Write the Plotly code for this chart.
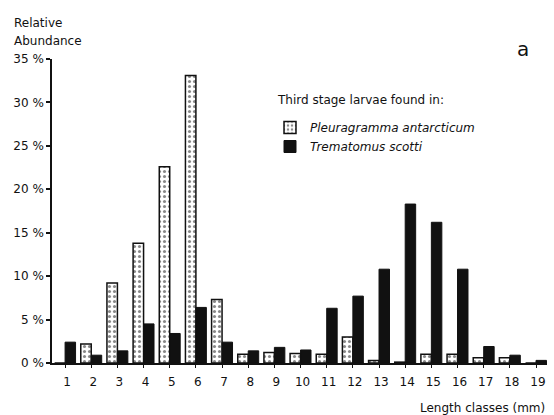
import plotly.graph_objects as go

# Length classes (mm) and relative abundance (%) of third stage larvae
length_classes = list(range(1, 20))
pleuragramma = [0.0, 2.2, 9.2, 13.8, 22.6, 33.1, 7.3, 1.0, 1.2, 1.1, 1.0, 3.0,
                0.3, 0.1, 1.0, 1.0, 0.6, 0.6, 0.0]
trematomus = [2.4, 0.9, 1.4, 4.5, 3.4, 6.4, 2.4, 1.4, 1.8, 1.5, 6.3, 7.7,
              10.8, 18.3, 16.2, 10.8, 1.9, 0.9, 0.3]
y_ticks = [0, 5, 10, 15, 20, 25, 30, 35]
y_tick_labels = [f"{v} %" for v in y_ticks]

FONT = "DejaVu Sans"
INK = "#111111"
W, H = 554, 415
ML, MR, MT, MB = 52, 7, 59, 52
PW, PH = W - ML - MR, H - MT - MB


def px_x(x):
    return (x - ML) / PW


def px_y(y):
    return (H - MB - y) / PH


fig = go.Figure()
fig.add_trace(go.Bar(
    x=length_classes, y=pleuragramma, name="Pleuragramma antarcticum",
    marker=dict(color="white", line=dict(color=INK, width=1.5),
                pattern=dict(shape=".", fgcolor=INK, bgcolor="white",
                             size=5, solidity=0.3, fillmode="overlay")),
))
fig.add_trace(go.Bar(
    x=length_classes, y=trematomus, name="Trematomus scotti",
    marker=dict(color=INK, line=dict(color=INK, width=1)),
))

fig.update_layout(
    width=W, height=H,
    margin=dict(l=ML, r=MR, t=MT, b=MB, autoexpand=False),
    paper_bgcolor="white", plot_bgcolor="white",
    barmode="group", bargap=0.2, bargroupgap=0.0,
    font=dict(family=FONT, size=12, color=INK),
    showlegend=True,
    legend=dict(
        x=px_x(270), y=px_y(113), xanchor="left", yanchor="top",
        font=dict(family=FONT, size=12, color=INK, style="italic"),
        bgcolor="rgba(0,0,0,0)", tracegroupgap=0, itemwidth=30,
    ),
    xaxis=dict(
        range=[0.5, 19.42], tickmode="array", tickvals=length_classes,
        ticktext=[str(v) for v in length_classes],
        showline=True, linecolor=INK, linewidth=1.5,
        ticks="outside", ticklen=3, tickcolor=INK, tickwidth=1,
        showgrid=False, zeroline=False, ticklabelshift=2,
        ticklabelstandoff=4, tickfont=dict(size=12),
    ),
    yaxis=dict(
        range=[0, 35], tickmode="array", tickvals=y_ticks, ticktext=y_tick_labels,
        showline=True, linecolor=INK, linewidth=1.5,
        ticks="outside", ticklen=4, tickcolor=INK, tickwidth=1.5,
        showgrid=False, zeroline=False, tickfont=dict(size=12),
    ),
    annotations=[
        dict(text="Third stage larvae found in:", xref="paper", yref="paper",
             x=px_x(275), y=px_y(100), xanchor="left", yanchor="middle",
             showarrow=False, font=dict(size=12)),
        dict(text="Relative", xref="paper", yref="paper", x=0, y=1,
             xshift=-40, yshift=36, xanchor="left", yanchor="middle",
             showarrow=False, font=dict(size=12)),
        dict(text="Abundance", xref="paper", yref="paper", x=0, y=1,
             xshift=-40, yshift=18, xanchor="left", yanchor="middle",
             showarrow=False, font=dict(size=12)),
        dict(text="Length classes (mm)", xref="paper", yref="paper", x=1, y=0,
             xanchor="right", yanchor="middle", yshift=-45,
             showarrow=False, font=dict(size=12)),
        dict(text="a", xref="paper", yref="paper", x=1, y=1,
             xanchor="right", yanchor="middle", xshift=-16, yshift=10,
             showarrow=False, font=dict(size=20)),
    ],
)

fig.write_html("out.html")
